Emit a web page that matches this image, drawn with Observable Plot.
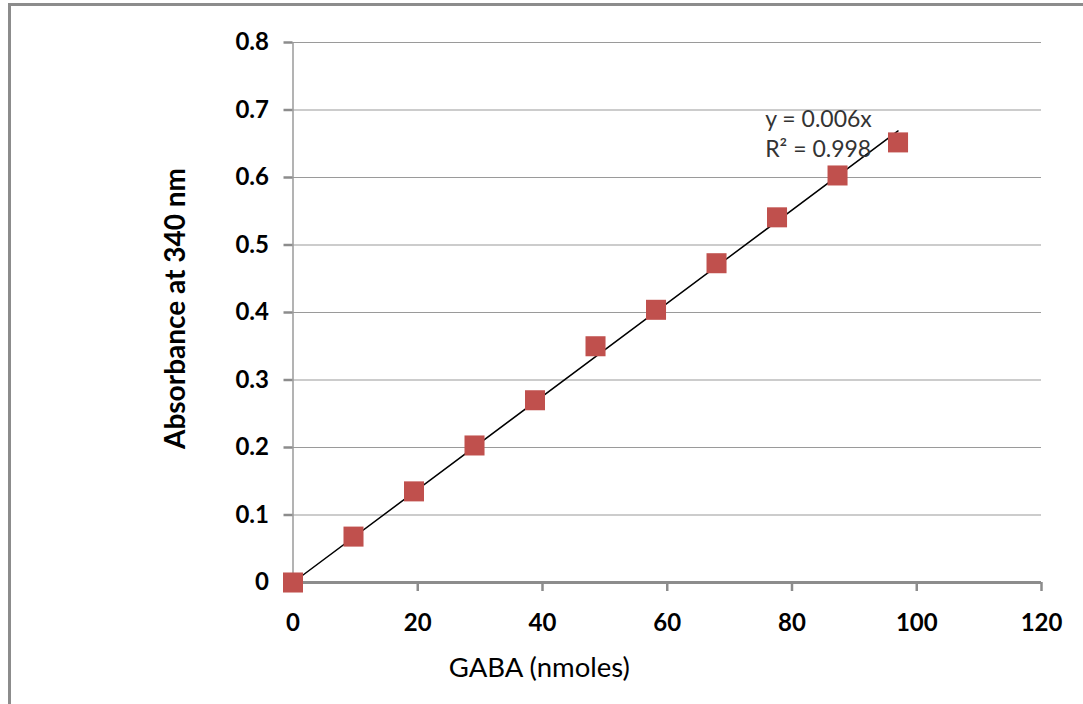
<!DOCTYPE html>
<html>
<head>
<meta charset="utf-8">
<script src="https://cdn.jsdelivr.net/npm/d3@7"></script>
<script src="https://cdn.jsdelivr.net/npm/@observablehq/plot@0.6"></script>
<style>
  html, body { margin: 0; padding: 0; background: #fff; overflow: hidden; }
  #wrap { position: relative; width: 1083px; height: 704px; }
  #frame { position: absolute; left: 8px; top: 3px; width: 1200px; height: 900px; border: 3px solid #8c8c8c; box-sizing: border-box; }
  #chart { position: absolute; left: 0; top: 0; }
</style>
</head>
<body>
<div id="wrap"><div id="frame"></div><div id="chart"></div></div>
<script>
// Data
const gaba = [0, 9.7, 19.4, 29.1, 38.8, 48.5, 58.2, 67.9, 77.6, 87.3, 97.0];
const absorbance = [0, 0.068, 0.135, 0.203, 0.270, 0.350, 0.404, 0.473, 0.541, 0.603, 0.652];
const trendX = [0, 97.0];
const trendY = [0, 0.669];
const xTicks = [0, 20, 40, 60, 80, 100, 120];
const yTicks = [0, 0.1, 0.2, 0.3, 0.4, 0.5, 0.6, 0.7, 0.8];
const xTitle = "GABA (nmoles)";
const yTitle = "Absorbance at 340 nm";
const equationText = ["y = 0.006x\nR\u00B2 = 0.998"];
const equationPos = {x: 75.7, y: 0.667};
const xTitlePos = {x: 39.5};

const points = gaba.map((g, i) => ({g, a: absorbance[i]}));
const trend = trendX.map((t, i) => ({g: t, a: trendY[i]}));

const FONT = "Lato, 'Open Sans', sans-serif";

const chart = Plot.plot({
  width: 1083,
  height: 704,
  marginLeft: 292.5,
  marginRight: 42,
  marginTop: 42,
  marginBottom: 122,
  style: {fontFamily: FONT, background: "transparent", overflow: "visible"},
  x: {domain: [0, 120]},
  y: {domain: [0, 0.8]},
  marks: [
    Plot.gridY(yTicks.slice(1), {stroke: "#9a9a9a", strokeOpacity: 1, strokeWidth: 1.2}),
    Plot.ruleX([0], {stroke: "#9a9a9a", strokeWidth: 1.5}),
    Plot.ruleY([0], {stroke: "#8c8c8c", strokeWidth: 3}),
    Plot.axisY(yTicks, {
      tickSize: 9, tickPadding: 15, stroke: "#8c8c8c", strokeWidth: 2.5,
      fill: "#000", fontSize: 24, fontWeight: "bold",
      tickFormat: d => String(d), label: null
    }),
    Plot.axisX(xTicks, {
      tickSize: 9, tickPadding: 22, stroke: "#8c8c8c", strokeWidth: 2.5,
      fill: "#000", fontSize: 24, fontWeight: "bold",
      tickFormat: d => String(d), label: null
    }),
    Plot.line(trend, {x: "g", y: "a", stroke: "#000", strokeWidth: 1.5}),
    Plot.dot(points, {x: "g", y: "a", symbol: "square", r: 11.3, fill: "#C0504D", stroke: "none"}),
    Plot.text(equationText, {
      x: () => equationPos.x, y: () => equationPos.y, text: d => d,
      textAnchor: "start", lineAnchor: "middle", lineHeight: 1.3,
      fontSize: 23, fill: "#333", fontFamily: FONT
    }),
    Plot.text([xTitle], {
      x: () => xTitlePos.x, frameAnchor: "bottom", dy: 86, text: d => d,
      textAnchor: "middle", lineAnchor: "middle",
      fontSize: 27.5, fill: "#000", fontFamily: FONT
    }),
    Plot.text([yTitle], {
      frameAnchor: "left", dx: -117, dy: -4, rotate: -90, text: d => d,
      textAnchor: "middle", lineAnchor: "middle",
      fontSize: 28, fontWeight: "bold", fill: "#000", fontFamily: FONT
    })
  ]
});
document.getElementById("chart").appendChild(chart);
</script>
</body>
</html>
